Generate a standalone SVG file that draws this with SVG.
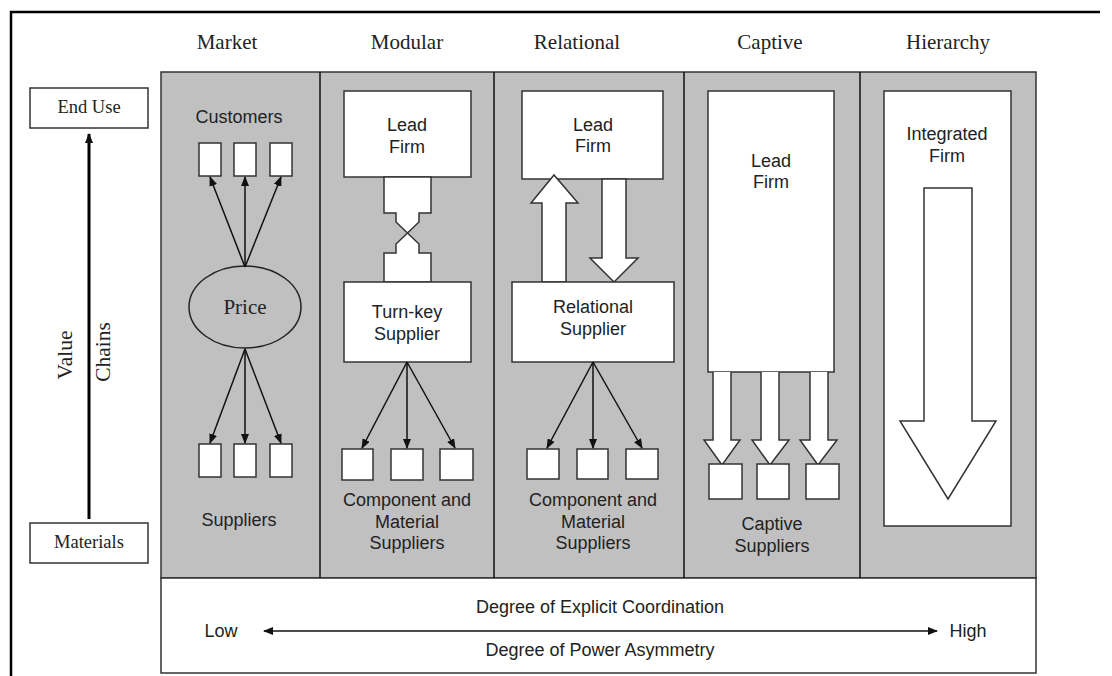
<svg xmlns="http://www.w3.org/2000/svg" width="1112" height="676" viewBox="0 0 1112 676">
<defs>
<style>
.serif{font-family:"Liberation Serif","Times New Roman",serif;fill:#222}
.sans{font-family:"Liberation Sans",Arial,sans-serif;fill:#222;font-size:18px;text-anchor:middle}
.hdr{font-size:21px;text-anchor:middle}
.box{fill:#fff;stroke:#333;stroke-width:1.5}
.gray{fill:#c0c0c0;stroke:#333;stroke-width:1.5}
.ln{stroke:#111;stroke-width:1.5;fill:none}
.blk{fill:#fff;stroke:#333;stroke-width:1.5;stroke-linejoin:miter}
</style>
<marker id="ah" markerWidth="10" markerHeight="8" refX="9" refY="4" orient="auto" markerUnits="userSpaceOnUse">
<path d="M0,0 L10,4 L0,8 Z" fill="#111"/>
</marker>
<marker id="ahs" markerWidth="10" markerHeight="8" refX="9" refY="4" orient="auto-start-reverse" markerUnits="userSpaceOnUse">
<path d="M0,0 L10,4 L0,8 Z" fill="#111"/>
</marker>
</defs>
<rect width="1112" height="676" fill="#fff"/>
<path d="M11,676 V12 H1100" fill="none" stroke="#000" stroke-width="2.5"/>

<g id="headers" class="serif hdr">
<text x="227" y="49" class="serif hdr">Market</text>
<text x="407" y="49" class="serif hdr">Modular</text>
<text x="577" y="49" class="serif hdr">Relational</text>
<text x="770" y="49" class="serif hdr">Captive</text>
<text x="948" y="49" class="serif hdr">Hierarchy</text>
</g>

<g id="axis">
<g id="end-use"><rect x="30" y="88" width="118" height="40" class="box"/><text x="89" y="113" class="serif" font-size="18.5" text-anchor="middle">End Use</text></g>
<g id="materials"><rect x="30" y="523" width="118" height="40" class="box"/><text x="89" y="548" class="serif" font-size="18.5" text-anchor="middle">Materials</text></g>
<line x1="89" y1="519" x2="89" y2="134" stroke="#000" stroke-width="3" marker-end="url(#ah)"/>
<text transform="translate(72,355) rotate(-90)" class="serif" font-size="21.5" text-anchor="middle">Value</text>
<text transform="translate(110,352) rotate(-90)" class="serif" font-size="21.5" text-anchor="middle">Chains</text>
</g>

<g id="panel">
<rect x="161" y="72" width="875" height="506" class="gray"/>
<rect x="161" y="578" width="875" height="95" class="box"/>
<line x1="320" y1="72" x2="320" y2="578" class="ln"/>
<line x1="494" y1="72" x2="494" y2="578" class="ln"/>
<line x1="684" y1="72" x2="684" y2="578" class="ln"/>
<line x1="860" y1="72" x2="860" y2="578" class="ln"/>
</g>

<g id="market">
<text x="239" y="123" class="sans">Customers</text>
<rect x="199" y="143" width="22" height="33" class="box"/>
<rect x="234" y="143" width="22" height="33" class="box"/>
<rect x="270" y="143" width="22" height="33" class="box"/>
<ellipse cx="245" cy="307" rx="56" ry="41" fill="#c0c0c0" stroke="#222" stroke-width="1.5"/>
<text x="245" y="314" class="serif" font-size="21" text-anchor="middle">Price</text>
<rect x="199" y="444" width="22" height="33" class="box"/>
<rect x="234" y="444" width="22" height="33" class="box"/>
<rect x="270" y="444" width="22" height="33" class="box"/>
<text x="239" y="526" class="sans">Suppliers</text>
</g>

<g id="modular">
<rect x="344" y="91" width="127" height="86" class="box"/>
<text x="407" y="131" class="sans">Lead</text>
<text x="407" y="153" class="sans">Firm</text>
<path d="M384,177 V213 H396 V222 L419,244 V253 H431 V282 H384 V253 H396 V244 L419,222 V213 H431 V177 Z" class="blk"/>
<rect x="344" y="282" width="127" height="80" class="box"/>
<text x="407" y="318" class="sans">Turn-key</text>
<text x="407" y="340" class="sans">Supplier</text>
<rect x="342" y="449" width="31" height="31" class="box"/>
<rect x="391" y="449" width="32" height="31" class="box"/>
<rect x="440" y="449" width="33" height="31" class="box"/>
<text x="407" y="506" class="sans">Component and</text>
<text x="407" y="528" class="sans">Material</text>
<text x="407" y="549" class="sans">Suppliers</text>
</g>

<g id="relational">
<rect x="522" y="91" width="141" height="88" class="box"/>
<text x="593" y="131" class="sans">Lead</text>
<text x="593" y="152" class="sans">Firm</text>
<path d="M542,282 V203 H531 L554,175 L578,203 H566 V282 Z" class="blk"/>
<path d="M602,179 V258 H590 L614,282 L638,258 H626 V179 Z" class="blk"/>
<rect x="512" y="282" width="162" height="80" class="box"/>
<text x="593" y="313" class="sans">Relational</text>
<text x="593" y="335" class="sans">Supplier</text>
<rect x="527" y="449" width="32" height="30" class="box"/>
<rect x="577" y="449" width="31" height="30" class="box"/>
<rect x="626" y="449" width="32" height="30" class="box"/>
<text x="593" y="506" class="sans">Component and</text>
<text x="593" y="528" class="sans">Material</text>
<text x="593" y="549" class="sans">Suppliers</text>
</g>

<g id="captive">
<rect x="708" y="91" width="126" height="281" class="box"/>
<text x="771" y="167" class="sans">Lead</text>
<text x="771" y="188" class="sans">Firm</text>
<path d="M713,372 V440 H704 L722,465 L740,440 H731 V372" class="blk"/>
<path d="M761,372 V440 H752 L770,465 L789,440 H779 V372" class="blk"/>
<path d="M810,372 V440 H800 L818,465 L837,440 H828 V372" class="blk"/>
<rect x="709" y="464" width="33" height="35" class="box"/>
<rect x="757" y="464" width="32" height="35" class="box"/>
<rect x="806" y="464" width="33" height="35" class="box"/>
<text x="772" y="530" class="sans">Captive</text>
<text x="772" y="552" class="sans">Suppliers</text>
</g>

<g id="hierarchy">
<rect x="884" y="91" width="127" height="435" class="box"/>
<text x="947" y="140" class="sans">Integrated</text>
<text x="947" y="162" class="sans">Firm</text>
<path d="M924,188 V421 H900 L948,499 L996,421 H972 V188 Z" class="blk"/>
</g>

<g id="connectors">
<line x1="245" y1="267" x2="210" y2="177" class="ln" marker-end="url(#ah)"/>
<line x1="245" y1="267" x2="245" y2="177" class="ln" marker-end="url(#ah)"/>
<line x1="245" y1="267" x2="281" y2="177" class="ln" marker-end="url(#ah)"/>
<line x1="245" y1="349" x2="210" y2="443" class="ln" marker-end="url(#ah)"/>
<line x1="245" y1="349" x2="245" y2="443" class="ln" marker-end="url(#ah)"/>
<line x1="245" y1="349" x2="281" y2="443" class="ln" marker-end="url(#ah)"/>
<line x1="407" y1="362" x2="362" y2="448" class="ln" marker-end="url(#ah)"/>
<line x1="407" y1="362" x2="407" y2="448" class="ln" marker-end="url(#ah)"/>
<line x1="407" y1="362" x2="455" y2="448" class="ln" marker-end="url(#ah)"/>
<line x1="593" y1="362" x2="547" y2="448" class="ln" marker-end="url(#ah)"/>
<line x1="593" y1="362" x2="593" y2="448" class="ln" marker-end="url(#ah)"/>
<line x1="593" y1="362" x2="642" y2="448" class="ln" marker-end="url(#ah)"/>
</g>

<g id="scale">
<text x="600" y="613" class="sans">Degree of Explicit Coordination</text>
<line x1="264" y1="631" x2="937" y2="631" class="ln" marker-start="url(#ahs)" marker-end="url(#ahs)"/>
<text x="221" y="637" class="sans">Low</text>
<text x="968" y="637" class="sans">High</text>
<text x="600" y="656" class="sans">Degree of Power Asymmetry</text>
</g>
</svg>
